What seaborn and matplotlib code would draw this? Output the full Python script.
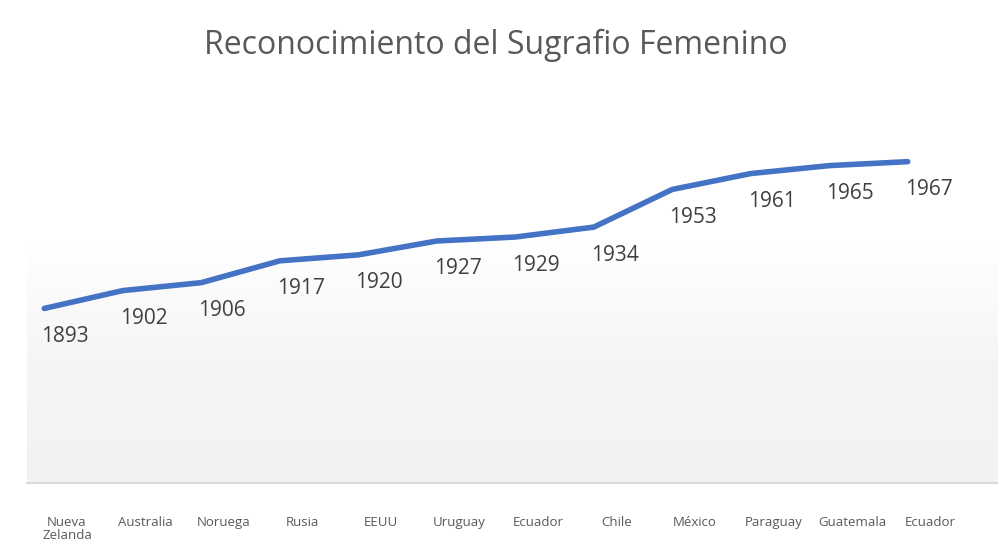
import numpy as np
import pandas as pd
import matplotlib.pyplot as plt
import seaborn as sns

# Data
paises = ["Nueva\nZelanda", "Australia", "Noruega", "Rusia", "EEUU", "Uruguay",
          "Ecuador", "Chile", "México", "Paraguay", "Guatemala", "Ecuador"]
anios = [1893, 1902, 1906, 1917, 1920, 1927, 1929, 1934, 1953, 1961, 1965, 1967]

df = pd.DataFrame({"pos": np.arange(len(paises)), "anio": anios})

sns.set_theme(style="white")
plt.rcParams['font.family'] = ['Open Sans', 'DejaVu Sans']

fig = plt.figure(figsize=(9.98, 5.51), dpi=100)
ax = fig.add_axes([27 / 998, 1 - 483 / 551, 971 / 998, 363 / 551])

# background gradient: white on top, light grey at bottom
grad = np.linspace(0, 1, 256).reshape(-1, 1)
ax.imshow(grad, extent=[-0.22, 12.15, 1805, 1988], aspect='auto',
          cmap=plt.matplotlib.colors.LinearSegmentedColormap.from_list(
              "g", ["#f2f2f2", "#f5f5f5", "#ffffff", "#ffffff"]),
          origin='lower', zorder=0)

sns.lineplot(data=df, x="pos", y="anio", color="#4472C4", linewidth=4, ax=ax, zorder=3)

for x, y in zip(df["pos"], df["anio"]):
    ax.annotate(str(y), (x, y), xytext=(21, -28), textcoords='offset pixels',
                ha='center', va='center', fontsize=15, color="#404040")

ax.set_xlim(-0.22, 12.15)
ax.set_ylim(1805, 1988)
ax.set_xticks(df["pos"] + 0.29)
ax.set_xticklabels(paises, fontsize=9.5, color="#595959", va='top', linespacing=1.0)
ax.tick_params(axis='x', length=0, pad=24)
ax.set_yticks([])
ax.set_xlabel("")
ax.set_ylabel("")
for s in ["top", "right", "left"]:
    ax.spines[s].set_visible(False)
ax.spines["bottom"].set_color("#d9d9d9")
ax.spines["bottom"].set_linewidth(1.5)

fig.text(0.497, 1 - 45 / 551, "Reconocimiento del Sugrafio Femenino",
         ha='center', va='center', fontsize=23, color="#595959")

fig.savefig("out.png", dpi=100)
